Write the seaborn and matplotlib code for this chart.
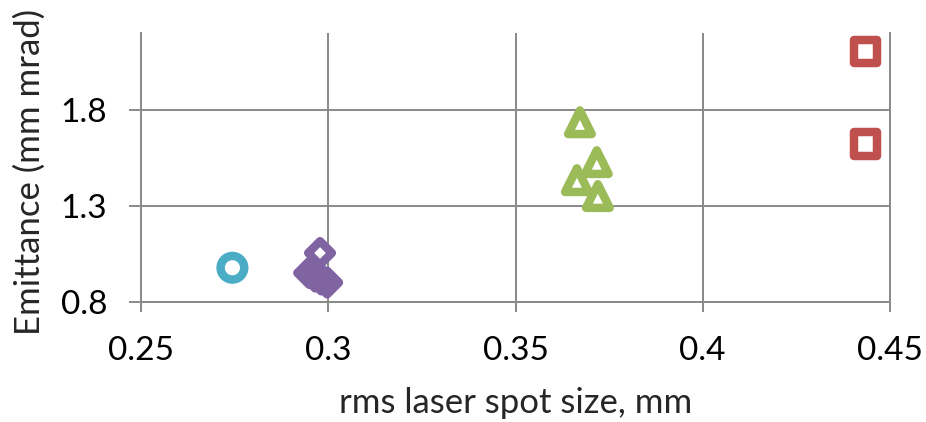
import matplotlib
matplotlib.use("Agg")
import matplotlib.pyplot as plt
import seaborn as sns
import pandas as pd

# Measured beam emittance versus rms laser spot size, one group per setting
circle_x = [0.2744]
circle_y = [0.977]

diamond_x = [0.2978, 0.2949, 0.2965, 0.2981, 0.2997]
diamond_y = [1.054, 0.950, 0.931, 0.916, 0.900]

triangle_x = [0.3672, 0.3717, 0.3664, 0.3720]
triangle_y = [1.736, 1.528, 1.434, 1.351]

square_x = [0.4435, 0.4435]
square_y = [2.106, 1.622]

x_ticks = [0.25, 0.3, 0.35, 0.4, 0.45]
x_tick_labels = ["0.25", "0.3", "0.35", "0.4", "0.45"]
y_ticks = [0.8, 1.3, 1.8]
y_tick_labels = ["0.8", "1.3", "1.8"]

groups = [
    ("circle", circle_x, circle_y, "o", "#4BACC6", 1.0),
    ("diamond", diamond_x, diamond_y, "D", "#8064A2", 0.5),
    ("triangle", triangle_x, triangle_y, "^", "#9BBB59", 1.0),
    ("square", square_x, square_y, "s", "#C0504D", 1.0),
]

sns.set_style("white")
plt.rcParams["font.family"] = ["Lato", "DejaVu Sans"]

fig = plt.figure(figsize=(9.26, 4.22), dpi=100)
ax = fig.add_axes([0.1523, 0.2851, 0.8088, 0.6360])

grid_col = "#898989"
ms = 17.0     # marker size in points
mew = 6.1     # marker edge width in points

for name, xs, ys, mk, col, area in groups:
    df = pd.DataFrame({"spot": xs, "emittance": ys})
    sns.scatterplot(data=df, x="spot", y="emittance", marker=mk, color=col,
                    s=ms ** 2 * area, ax=ax, legend=False, zorder=3)
    pc = ax.collections[-1]
    pc.set_facecolor("none")
    pc.set_edgecolor(col)
    pc.set_linewidth(mew)
    pc.set_joinstyle("round")
    pc.set_clip_on(False)

ax.set_xlim(0.25, 0.45)
ax.set_ylim(0.8, 2.2)
ax.set_xticks(x_ticks, x_tick_labels)
ax.set_yticks(y_ticks, y_tick_labels)

ax.grid(True, color=grid_col, linewidth=1.4)
ax.set_axisbelow(True)
for side in ["left", "right", "bottom"]:
    ax.spines[side].set_visible(True)
    ax.spines[side].set_color(grid_col)
    ax.spines[side].set_linewidth(1.4)
ax.spines["top"].set_visible(False)

ax.tick_params(axis="x", direction="out", length=7.5, width=1.4, color=grid_col,
               pad=17, labelsize=24, labelcolor="black", bottom=True)
ax.tick_params(axis="y", direction="out", length=8.5, width=1.4, color=grid_col,
               pad=16, labelsize=24, labelcolor="black", left=True)

ax.set_xlabel("rms laser spot size, mm", fontsize=25, va="center")
ax.xaxis.set_label_coords(0.5, -0.378)
ax.set_ylabel("Emittance (mm mrad)", fontsize=25, va="center")
ax.yaxis.set_label_coords(-0.148, 0.483)

fig.savefig("out.png", dpi=100)
